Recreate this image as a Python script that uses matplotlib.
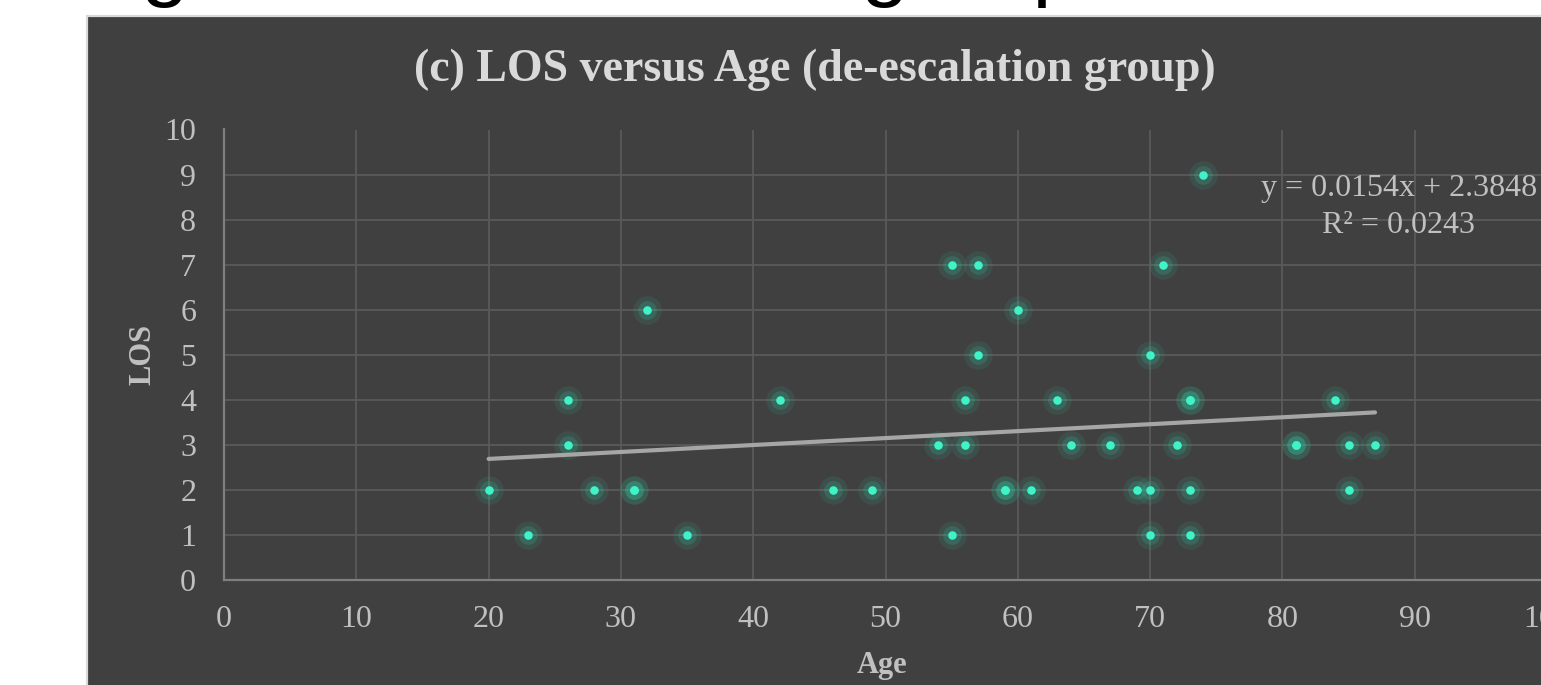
import matplotlib
matplotlib.use("Agg")
import matplotlib.pyplot as plt
from matplotlib.patches import Rectangle

# scatter data: age vs length of stay (de-escalation group)
age = [20, 23, 26, 26, 28, 31, 31, 32, 35, 42, 46, 49, 54, 55, 55, 56, 56, 57, 57,
       59, 59, 60, 61, 63, 64, 67, 69, 70, 70, 70, 71, 72, 73, 73, 73, 73, 74,
       81, 81, 84, 85, 85, 87]
los = [2, 1, 4, 3, 2, 2, 2, 6, 1, 4, 2, 2, 3, 7, 1, 4, 3, 7, 5,
       2, 2, 6, 2, 4, 3, 3, 2, 5, 2, 1, 7, 3, 4, 4, 2, 1, 9,
       3, 3, 4, 3, 2, 3]

# linear trend shown on the chart
slope = 0.0154
intercept = 2.3848
r_squared = 0.0243

x_ticks = [0, 10, 20, 30, 40, 50, 60, 70, 80, 90, 100]
y_ticks = [0, 1, 2, 3, 4, 5, 6, 7, 8, 9, 10]

bg = '#404040'
W, H = 1541, 685

fig = plt.figure(figsize=(W / 100, H / 100), dpi=100)
fig.patch.set_facecolor('white')

# bits of the page heading above the chart (only descenders visible)
fig.text(140 / W, 1 + 10 / H, 'g', fontsize=62, family='Liberation Sans', color='black', va='baseline')
fig.text(860 / W, 1 + 10 / H, 'group', fontsize=62, family='Liberation Sans', color='black', va='baseline')

# dark chart card with light border
card = Rectangle((87 / W, -0.05), 1.1, 1 - 16 / H + 0.05, transform=fig.transFigure,
                 facecolor=bg, edgecolor='#d9d9d9', linewidth=1.6, zorder=-10)
fig.patches.append(card)

ax = fig.add_axes([224 / W, 1 - 580.3 / H, 1323 / W, (580.3 - 129.5) / H])
ax.set_facecolor(bg)
ax.set_xlim(0, 100)
ax.set_ylim(0, 10)
ax.set_xticks(x_ticks)
ax.set_yticks(y_ticks)
ax.grid(True, color='#5a5a5a', linewidth=1.3)
ax.set_axisbelow(True)
for s in ['top', 'right']:
    ax.spines[s].set_visible(False)
for s in ['left', 'bottom']:
    ax.spines[s].set_color('#7f7f7f')
    ax.spines[s].set_linewidth(1.6)

serif = 'Liberation Serif'
ax.tick_params(length=0, labelsize=23, labelcolor='#c0c0c0')
ax.tick_params(axis='x', pad=18)
ax.tick_params(axis='y', pad=20)
for lab in ax.get_xticklabels() + ax.get_yticklabels():
    lab.set_family(serif)

# glow + core markers
ax.scatter(age, los, s=420, color='#2ecfa4', alpha=0.10, linewidths=0, zorder=3)
ax.scatter(age, los, s=180, color='#2ecfa4', alpha=0.20, linewidths=0, zorder=3)
ax.scatter(age, los, s=38, color='#40f2c8', linewidths=0, zorder=4)

# trendline across the data range
x_fit = [min(age), max(age)]
y_fit = [slope * x + intercept for x in x_fit]
ax.plot(x_fit, y_fit, color='#a6a6a6', linewidth=3, solid_capstyle='round', zorder=5)

ax.text(1399 / W, 1 - 207 / H,
        'y = %.4fx + %.4f\nR² = %.4f' % (slope, intercept, r_squared),
        transform=fig.transFigure, ha='center', va='center', fontsize=23,
        family=serif, color='#c0c0c0', linespacing=1.35, zorder=6)

ax.set_xlabel('Age', family=serif, fontsize=22, fontweight='bold', color='#c0c0c0', va='baseline')
ax.xaxis.set_label_coords((882 - 224) / 1323, (580.3 - 673) / 450.8)
ax.set_ylabel('LOS', family=serif, fontsize=22, fontweight='bold', color='#c0c0c0', va='baseline')
ax.yaxis.set_label_coords((150 - 224) / 1323, 0.5)

fig.text(815 / W, 1 - 70 / H, '(c) LOS versus Age (de-escalation group)', ha='center', va='center',
         family=serif, fontsize=33, fontweight='bold', color='#d9d9d9')

fig.savefig('out.png', dpi=100, facecolor=fig.get_facecolor())
